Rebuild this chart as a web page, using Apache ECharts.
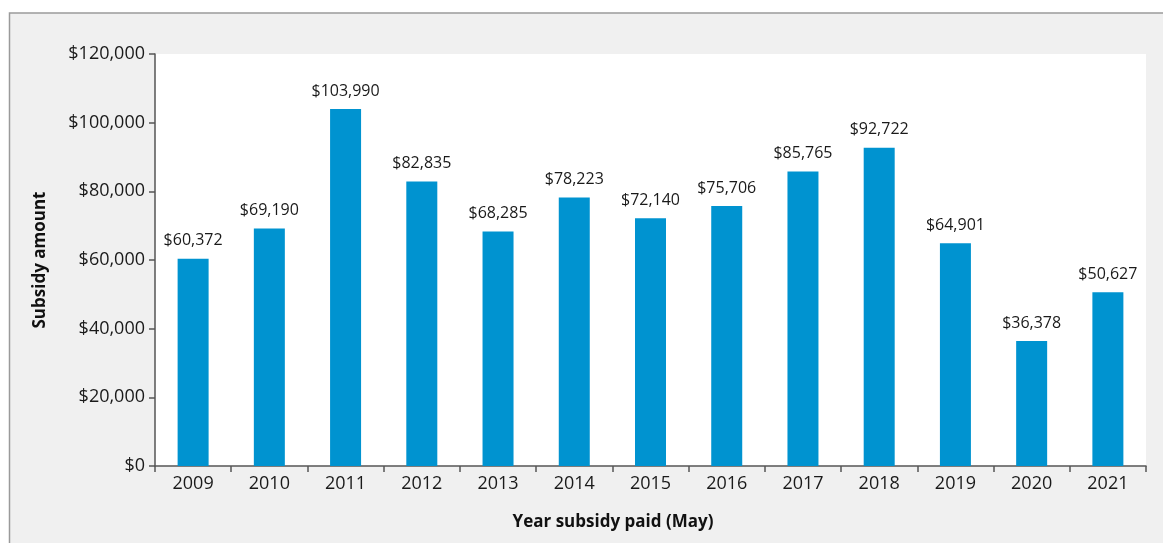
<!DOCTYPE html>
<html>
<head>
<meta charset="utf-8">
<script src="https://cdn.jsdelivr.net/npm/echarts@6/dist/echarts.min.js"></script>
<style>
  html, body { margin: 0; padding: 0; background: #ffffff; }
  #chart { width: 1163px; height: 543px; }
</style>
</head>
<body>
<div id="chart"></div>
<script>
// Annual subsidy paid each May
const years = ['2009', '2010', '2011', '2012', '2013', '2014', '2015', '2016', '2017', '2018', '2019', '2020', '2021'];
const subsidy = [60372, 69190, 103990, 82835, 68285, 78223, 72140, 75706, 85765, 92722, 64901, 36378, 50627];
const yTicks = { min: 0, max: 120000, interval: 20000 };

const FONT = '"Open Sans", "Noto Sans", sans-serif';
const TEXT = '#1a1a1a';
const AXIS = '#555555';

const money = v => '$' + v.toLocaleString('en-US');

const chart = echarts.init(document.getElementById('chart'), null, { renderer: 'canvas' });

chart.setOption({
  backgroundColor: '#ffffff',
  animation: false,
  graphic: [
    {
      type: 'rect',
      z: -10,
      shape: { x: 9.5, y: 13, width: 1163, height: 540 },
      style: { fill: '#f0f0f0', stroke: '#9a9a9a', lineWidth: 1.5 }
    },
    {
      type: 'text',
      x: 613,
      y: 522,
      style: {
        text: 'Year subsidy paid (May)',
        fill: '#111111',
        font: 'bold 17px ' + FONT,
        textAlign: 'center',
        textVerticalAlign: 'middle'
      }
    }
  ],
  grid: {
    left: 155,
    right: 17,
    top: 54,
    bottom: 77,
    show: true,
    backgroundColor: '#ffffff',
    borderWidth: 0
  },
  xAxis: {
    type: 'category',
    data: years,
    axisLine: { lineStyle: { color: AXIS, width: 1.5 } },
    axisTick: { show: true, alignWithLabel: false, length: 6, lineStyle: { color: AXIS, width: 1.5 } },
    axisLabel: { color: TEXT, fontFamily: FONT, fontSize: 18, margin: 9 },
    splitLine: { show: false }
  },
  yAxis: {
    type: 'value',
    min: yTicks.min,
    max: yTicks.max,
    interval: yTicks.interval,
    name: 'Subsidy amount',
    nameLocation: 'middle',
    nameGap: 106,
    nameRotate: 90,
    nameTextStyle: { color: '#111111', fontFamily: FONT, fontSize: 17, fontWeight: 'bold' },
    axisLine: { show: true, lineStyle: { color: AXIS, width: 1.5 } },
    axisTick: { show: true, length: 6, lineStyle: { color: AXIS, width: 1.5 } },
    axisLabel: { color: TEXT, fontFamily: FONT, fontSize: 18, margin: 10, formatter: v => money(v) },
    splitLine: { show: false }
  },
  series: [
    {
      type: 'bar',
      data: subsidy,
      barWidth: 31,
      itemStyle: { color: '#0093d0' },
      label: {
        show: true,
        position: 'top',
        distance: 10,
        color: TEXT,
        fontFamily: FONT,
        fontSize: 16,
        formatter: p => money(p.value)
      }
    }
  ]
});
</script>
</body>
</html>
